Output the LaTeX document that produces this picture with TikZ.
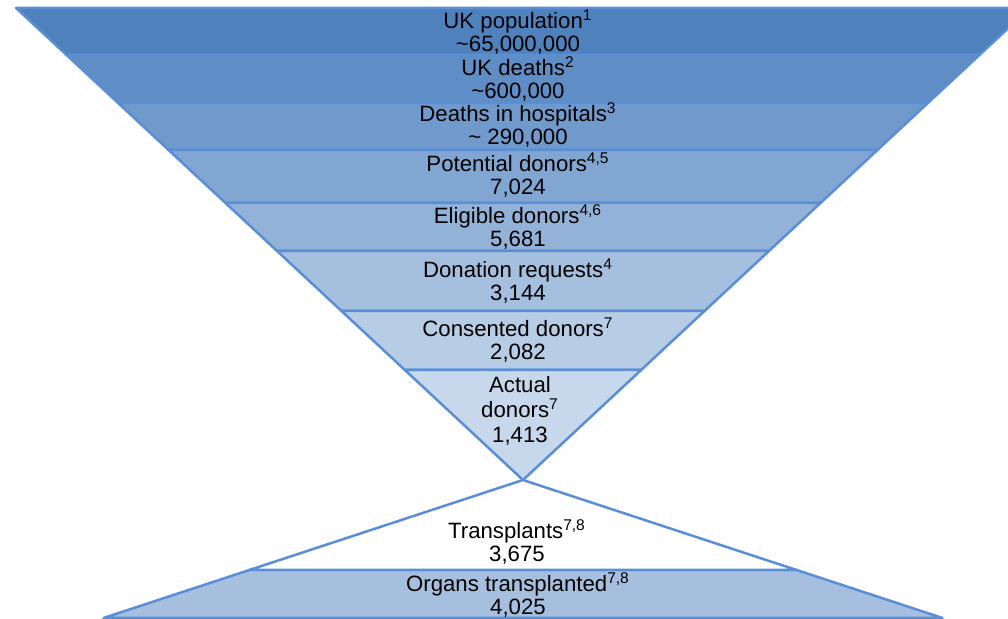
\documentclass[tikz,border=0pt]{standalone}
\usepackage{fontspec}
\setmainfont{Liberation Sans}
% band fills, darkest at the top of the funnel
\definecolor{bandA}{HTML}{4F81BD}
\definecolor{bandB}{HTML}{5F8DC5}
\definecolor{bandC}{HTML}{7099CC}
\definecolor{bandD}{HTML}{82A6D2}
\definecolor{bandE}{HTML}{93B2D8}
\definecolor{bandF}{HTML}{A5C0DF}
\definecolor{bandG}{HTML}{B7CCE5}
\definecolor{bandH}{HTML}{C8D8EC}
\definecolor{organs}{HTML}{A7BFDF}
\definecolor{outl}{HTML}{5A8ED6}
\begin{document}
\begin{tikzpicture}[x=0.5pt,y=-0.5pt,
  edge/.style={draw=outl, line width=1.25pt, line join=round},
  lbl/.style={align=center, font=\fontsize{11.1}{11.3}\selectfont, inner sep=0pt}]
\useasboundingbox (0,0) rectangle (1008,619);
\clip (0,0) rectangle (1008,619);
% upper funnel: apex at (523,480), sides with slope 1.074
\newcommand\fband[3]{%
  \filldraw[edge, fill=#3] ({523-(480-#1)*1.074},#1) -- ({523+(480-#1)*1.074},#1)
    -- ({523+(480-#2)*1.074},#2) -- ({523-(480-#2)*1.074},#2) -- cycle;}
\fband{8}{55}{bandA}
\fband{55}{103}{bandB}
\fband{103}{150}{bandC}
\fband{150}{203}{bandD}
\fband{203}{251}{bandE}
\fband{251}{311}{bandF}
\fband{311}{370}{bandG}
\fband{370}{480}{bandH}
% lower pyramid: same apex, sides with slope 3.04
\coordinate (apex) at (523,480);
\coordinate (tl) at ({523-(570-480)*3.04},570);
\coordinate (tr) at ({523+(570-480)*3.04},570);
\coordinate (bl) at ({523-(618-480)*3.04},618);
\coordinate (br) at ({523+(618-480)*3.04},618);
\filldraw[edge, fill=organs] (tl) -- (tr) -- (br) -- (bl) -- cycle;
\filldraw[edge, fill=white] (apex) -- (tr) -- (tl) -- cycle;
% labels
\node[lbl] (pop) at (518,32) {UK population\textsuperscript{1}\\\textasciitilde65,000,000};
\node[lbl] (deaths) at (518,79) {UK deaths\textsuperscript{2}\\\textasciitilde600,000};
\node[lbl] (hosp) at (518,125) {Deaths in hospitals\textsuperscript{3}\\\textasciitilde\ 290,000};
\node[lbl] (pot) at (518,175) {Potential donors\textsuperscript{4,5}\\7,024};
\node[lbl] (elig) at (518,227) {Eligible donors\textsuperscript{4,6}\\5,681};
\node[lbl] (req) at (518,281) {Donation requests\textsuperscript{4}\\3,144};
\node[lbl] (cons) at (518,340) {Consented donors\textsuperscript{7}\\2,082};
\node[lbl, font=\fontsize{11.1}{12.5}\selectfont] (act) at (520,411) {Actual\\donors\textsuperscript{7}\\1,413};
\node[lbl] (trans) at (517,542) {Transplants\textsuperscript{7,8}\\3,675};
\node[lbl] (org) at (518,595) {Organs transplanted\textsuperscript{7,8}\\4,025};
\end{tikzpicture}
\end{document}
